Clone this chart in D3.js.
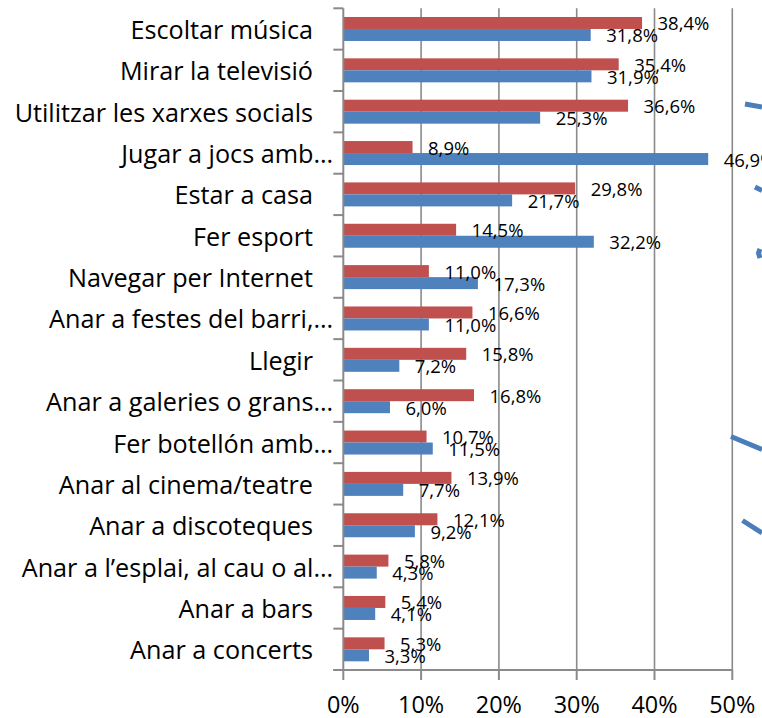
<!DOCTYPE html>
<html>
<head>
<meta charset="utf-8">
<script src="https://cdn.jsdelivr.net/npm/d3@7"></script>
<style>
  html, body { margin: 0; padding: 0; background: #fff; }
  svg { display: block; }
  text { font-family: "Open Sans", "Noto Sans", sans-serif; fill: #000; }
</style>
</head>
<body>
<svg id="chart"></svg>
<script>
// ── Data ──────────────────────────────────────────────────────────────────────
const categories = [
  'Escoltar música',
  'Mirar la televisió',
  'Utilitzar les xarxes socials',
  'Jugar a jocs amb…',
  'Estar a casa',
  'Fer esport',
  'Navegar per Internet',
  'Anar a festes del barri,…',
  'Llegir',
  'Anar a galeries o grans…',
  'Fer botellón amb…',
  'Anar al cinema/teatre',
  'Anar a discoteques',
  'Anar a l’esplai, al cau o al…',
  'Anar a bars',
  'Anar a concerts'
];
const noies = [38.4, 35.4, 36.6, 8.9, 29.8, 14.5, 11.0, 16.6, 15.8, 16.8, 10.7, 13.9, 12.1, 5.8, 5.4, 5.3];
const nois  = [31.8, 31.9, 25.3, 46.9, 21.7, 32.2, 17.3, 11.0, 7.2, 6.0, 11.5, 7.7, 9.2, 4.3, 4.1, 3.3];
const xTicks = [0, 10, 20, 30, 40, 50];

// blue strokes of a neighbouring drawing, cut off at the right edge
const decor = [
  [[745, 104], [762, 107]],
  [[755, 187], [762, 190.5]],
  [[760, 249], [758.5, 253], [760, 258]],
  [[731, 436.5], [762, 449.5]],
  [[742.5, 520.5], [762, 533]]
];

// ── Dimensions ────────────────────────────────────────────────────────────────
const W = 762, H = 718;
const plot = { left: 343.3, right: 732.3, top: 8.3, bottom: 670 };

const RED = '#c0504d', BLUE = '#4f81bd', GRID = '#8a8a8a';

const svg = d3.select('#chart')
  .attr('width', W)
  .attr('height', H)
  .attr('viewBox', `0 0 ${W} ${H}`);

const rows = categories.map((c, i) => ({ cat: c, noies: noies[i], nois: nois[i] }));

// Scales
const x = d3.scaleLinear().domain([0, 50]).range([plot.left, plot.right]);
const y = d3.scaleBand().domain(categories).range([plot.top, plot.bottom]);
const band = y.bandwidth();
const sub = d3.scaleBand().domain(['noies', 'nois']).range([band * 0.21, band * 0.79]);

// Grid
svg.append('g')
  .selectAll('line')
  .data(xTicks.slice(1))
  .join('line')
  .attr('x1', d => x(d)).attr('x2', d => x(d))
  .attr('y1', plot.top).attr('y2', plot.bottom)
  .attr('stroke', GRID)
  .attr('stroke-width', 1.6);

// Bars
const g = svg.append('g');
const groups = g.selectAll('g')
  .data(rows)
  .join('g')
  .attr('transform', d => `translate(0,${y(d.cat)})`);

groups.append('rect')
  .attr('x', x(0))
  .attr('y', sub('noies'))
  .attr('width', d => x(d.noies) - x(0))
  .attr('height', sub.bandwidth())
  .attr('fill', RED);

groups.append('rect')
  .attr('x', x(0))
  .attr('y', sub('nois'))
  .attr('width', d => x(d.nois) - x(0))
  .attr('height', sub.bandwidth())
  .attr('fill', BLUE);

// Value labels
const fmt = v => v.toFixed(1).replace('.', ',') + '%';
groups.append('text')
  .attr('x', d => x(d.noies) + 15.5)
  .attr('y', sub('noies') + sub.bandwidth() / 2 + 7.5)
  .attr('font-size', 18.5)
  .text(d => fmt(d.noies));

groups.append('text')
  .attr('x', d => x(d.nois) + 15.5)
  .attr('y', sub('nois') + sub.bandwidth() / 2 + 7.5)
  .attr('font-size', 18.5)
  .text(d => fmt(d.nois));

// Axes
const yAxis = svg.append('g');
yAxis.append('line')
  .attr('x1', plot.left).attr('x2', plot.left)
  .attr('y1', plot.top).attr('y2', plot.bottom)
  .attr('stroke', GRID).attr('stroke-width', 2);
yAxis.selectAll('line.tick')
  .data(categories.map(c => y(c)).concat([plot.bottom]))
  .join('line')
  .attr('class', 'tick')
  .attr('x1', plot.left - 10).attr('x2', plot.left)
  .attr('y1', d => d).attr('y2', d => d)
  .attr('stroke', GRID).attr('stroke-width', 2);

yAxis.selectAll('text')
  .data(categories)
  .join('text')
  .attr('x', d => d.endsWith('…') ? 333 : 313)
  .attr('y', d => y(d) + band / 2 + 10)
  .attr('text-anchor', 'end')
  .attr('font-size', 25.2)
  .text(d => d);

const xAxis = svg.append('g');
xAxis.append('line')
  .attr('x1', plot.left - 10).attr('x2', plot.right)
  .attr('y1', plot.bottom).attr('y2', plot.bottom)
  .attr('stroke', GRID).attr('stroke-width', 2);
xAxis.selectAll('line.tick')
  .data(xTicks)
  .join('line')
  .attr('class', 'tick')
  .attr('x1', d => x(d)).attr('x2', d => x(d))
  .attr('y1', plot.bottom).attr('y2', plot.bottom + 10)
  .attr('stroke', GRID).attr('stroke-width', 2);
xAxis.selectAll('text')
  .data(xTicks)
  .join('text')
  .attr('x', d => x(d))
  .attr('y', 712.5)
  .attr('text-anchor', 'middle')
  .attr('font-size', 23.4)
  .text(d => d + '%');

// Decorative strokes
svg.append('g')
  .selectAll('path')
  .data(decor)
  .join('path')
  .attr('d', d3.line())
  .attr('fill', 'none')
  .attr('stroke', '#4a7ebb')
  .attr('stroke-width', 5);
</script>
</body>
</html>
